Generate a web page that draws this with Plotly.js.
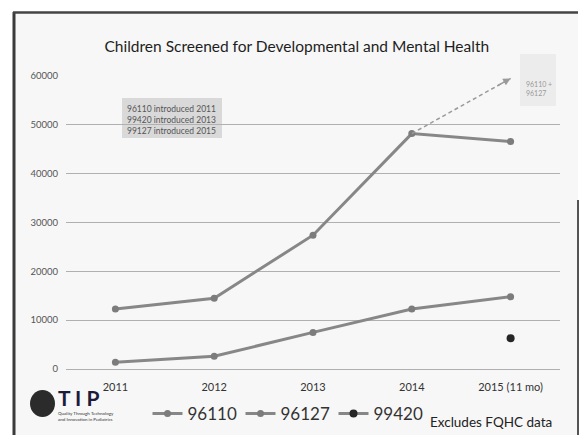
<!DOCTYPE html>
<html><head><meta charset="utf-8">
<script src="https://cdn.plot.ly/plotly-3.0.1.min.js"></script>
<style>html,body{margin:0;padding:0;background:#fff}#chart{width:582px;height:435px}</style>
</head><body><div id="chart"></div>
<script>
const years = ['2011','2012','2013','2014','2015 (11 mo)'];
const code96110 = [12300,14500,27400,48200,46600];
const code96127 = [1400,2600,7500,12300,14800];
const code99420 = [null,null,null,null,6300];
const combined96110_96127 = [null,null,null,48200,59500];
const yTicks = [0,10000,20000,30000,40000,50000,60000];
const introNotes = ['96110 introduced 2011','99420 introduced 2013','99127 introduced 2015'];
const combinedLabel = ['96110 +','96127'];

const W=582,H=435,L=66,R=22,T=76,B=66;
const pw=W-L-R, ph=H-T-B;
const px = x => (x-L)/pw;
const py = y => (H-B-y)/ph;
const FONT = 'Lato, "Open Sans", sans-serif';
const LINEC = '#878787';

const traces = [
  {x: years, y: code96110, name: '96110', type: 'scatter', mode: 'lines+markers',
   line: {color: LINEC, width: 3}, marker: {color: '#7c7c7c', size: 7}},
  {x: years, y: code96127, name: '96127', type: 'scatter', mode: 'lines+markers',
   line: {color: LINEC, width: 3}, marker: {color: '#7c7c7c', size: 7}},
  {x: years, y: code99420, name: '99420', type: 'scatter', mode: 'lines+markers', connectgaps: true,
   line: {color: LINEC, width: 3}, marker: {color: '#262626', size: 8}},
  {x: years, y: combined96110_96127, name: '96110 + 96127', type: 'scatter', mode: 'lines',
   showlegend: false, line: {color: '#9a9a9a', width: 1.5, dash: '4px,3px'}}
];

const layout = {
  width: W, height: H,
  margin: {l: L, r: R, t: T, b: B, pad: 0, autoexpand: false},
  paper_bgcolor: '#ffffff', plot_bgcolor: 'rgba(0,0,0,0)',
  font: {family: FONT, color: '#333'},
  title: {text: 'Children Screened for Developmental and Mental Health',
          x: 0.51, xanchor: 'center', y: 1 - 47/H, yanchor: 'middle',
          font: {family: FONT, size: 15.5, color: '#1e1e1e'}},
  xaxis: {type: 'category', range: [-0.5, 4.5], showgrid: false, zeroline: false, showline: false,
          ticks: '', tickfont: {family: FONT, size: 11, color: '#333'}, ticklabelstandoff: 10, fixedrange: true},
  yaxis: {range: [0, 60000], tickvals: yTicks, ticktext: yTicks.map(String), showgrid: true,
          gridcolor: '#b0b0b0', gridwidth: 1, zeroline: true, zerolinecolor: '#b0b0b0', zerolinewidth: 1,
          showline: false, ticks: '', tickfont: {family: FONT, size: 9.5, color: '#555'},
          ticklabelstandoff: 7, fixedrange: true},
  showlegend: true,
  legend: {orientation: 'h', xref: 'container', yref: 'container', x: 287/W, xanchor: 'center',
           y: 1 - 414/H, yanchor: 'middle', entrywidth: 48,
           font: {family: FONT, size: 17, color: '#333'}, bgcolor: 'rgba(0,0,0,0)', itemwidth: 30},
  shapes: [
    {type: 'rect', xref: 'paper', yref: 'paper', x0: px(13), x1: px(578), y0: py(440), y1: py(12),
     fillcolor: '#f7f7f7', line: {width: 0}, layer: 'below'},
    {type: 'rect', xref: 'paper', yref: 'paper', x0: px(122), x1: px(222), y0: py(138), y1: py(98),
     fillcolor: '#d9d9d9', line: {width: 0}, layer: 'below'},
    {type: 'rect', xref: 'paper', yref: 'paper', x0: px(520), x1: px(556), y0: py(106), y1: py(54),
     fillcolor: '#ececec', line: {width: 0}, layer: 'below'},
    {type: 'line', xref: 'paper', yref: 'paper', x0: px(14), x1: px(14), y0: py(12), y1: py(440),
     line: {color: '#3a3a3a', width: 3}},
    {type: 'line', xref: 'paper', yref: 'paper', x0: px(13), x1: px(578), y0: py(12.5), y1: py(12.5),
     line: {color: '#444', width: 2.5}},
    {type: 'line', xref: 'paper', yref: 'paper', x0: px(578), x1: px(578), y0: py(200), y1: py(440),
     line: {color: '#555', width: 2}},
    {type: 'circle', xref: 'paper', yref: 'paper', x0: px(30), x1: px(55), y0: py(417), y1: py(390),
     fillcolor: '#2b2b2b', line: {width: 0}}
  ],
  annotations: [
    {xref: 'paper', yref: 'paper', x: px(125), y: py(120), xanchor: 'left', yanchor: 'middle',
     text: introNotes.join('<br>'), align: 'left', showarrow: false,
     font: {family: FONT, size: 8.5, color: '#555'}},
    {xref: 'paper', yref: 'paper', x: px(524), y: py(88), xanchor: 'left', yanchor: 'middle',
     text: combinedLabel.join('<br>'), align: 'left', showarrow: false,
     font: {family: FONT, size: 7, color: '#999'}},
    {x: 4, y: combined96110_96127[4], xref: 'x', yref: 'y', ax: 3.85,
     ay: combined96110_96127[4] - 0.15*(combined96110_96127[4]-combined96110_96127[3]),
     axref: 'x', ayref: 'y', text: '', showarrow: true, arrowhead: 2, arrowsize: 1,
     arrowwidth: 1.5, arrowcolor: '#9a9a9a'},
    {xref: 'paper', yref: 'paper', x: px(554), y: py(422), xanchor: 'right', yanchor: 'middle',
     text: 'Excludes FQHC data', showarrow: false, font: {family: FONT, size: 13.5, color: '#222'}},
    {xref: 'paper', yref: 'paper', x: px(56), y: py(397), xanchor: 'left', yanchor: 'middle',
     text: '<b>T I P</b>', showarrow: false, font: {family: FONT, size: 21, color: '#1c1c3a'}},
    {xref: 'paper', yref: 'paper', x: px(56), y: py(416), xanchor: 'left', yanchor: 'middle',
     text: 'Quality Through Technology<br>and Innovation in Pediatrics', align: 'left', showarrow: false,
     font: {family: FONT, size: 4.5, color: '#333'}}
  ]
};

Plotly.newPlot('chart', traces, layout, {displayModeBar: false, staticPlot: true});
</script>
</body></html>
